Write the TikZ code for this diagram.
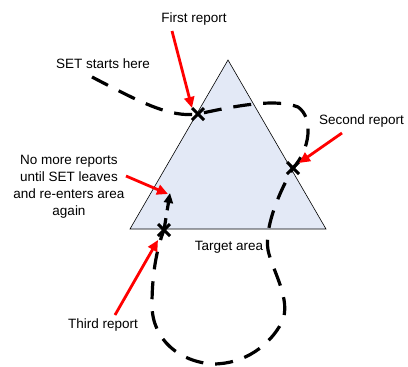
\documentclass[tikz,border=0pt]{standalone}
\usepackage{fontspec}
\setmainfont{Liberation Sans}
\usetikzlibrary{arrows.meta}
\definecolor{areafill}{RGB}{227,233,246}
\begin{document}
\begin{tikzpicture}[x=1pt,y=-1pt,
  lbl/.style={font=\fontsize{13.5}{17}\selectfont, inner sep=0pt, align=center},
  redarrow/.style={draw=red, line width=2.8pt, -{Triangle[length=11pt,width=10pt]}},
  path/.style={draw=black, line width=3.2pt, dash pattern=on 18pt off 12pt},
  xmark/.style={draw=black, line width=3pt}]
\useasboundingbox (0,0) rectangle (408,367);
% triangle
\coordinate (apex) at (228,60);
\coordinate (bl) at (130,229);
\coordinate (br) at (326,229);
\filldraw[fill=areafill, draw=black, line width=0.6pt] (apex) -- (br) -- (bl) -- cycle;
% crossing points
\coordinate (x1) at (198,114);
\coordinate (x2) at (293,168);
\coordinate (x3) at (164,230);
\coordinate (start) at (92,77);
\coordinate (tip) at (170,193);
% dashed trajectory
\draw[path] (start) .. controls (140,102) and (170,118) .. (x1)
  .. controls (235,106) and (275,98) .. (298,107)
  .. controls (314,118) and (310,150) .. (x2)
  .. controls (275,200) and (265,230) .. (268,250)
  .. controls (272,270) and (292,300) .. (282,322)
  .. controls (270,345) and (245,364) .. (213,364)
  .. controls (180,362) and (152,340) .. (152,305)
  .. controls (152,270) and (158,245) .. (x3);
\draw[path, dash pattern=on 12pt off 8pt, -{Triangle[length=10pt,width=9pt]}] (x3) -- (tip);
% X marks
\foreach \p in {x1,x2,x3}{
  \draw[xmark] ([shift={(-6,-6)}]\p) -- ([shift={(6,6)}]\p);
  \draw[xmark] ([shift={(-6,6)}]\p) -- ([shift={(6,-6)}]\p);
}
% labels
\node[lbl] (first) at (194,19) {First report};
\node[lbl] (setstart) at (103,64) {SET starts here};
\node[lbl, anchor=west] (second) at (319,121) {Second report};
\node[lbl] (nomore) at (69,187) {No more reports\\until SET leaves\\and re-enters area\\again};
\node[lbl] (target) at (229,247) {Target area};
\node[lbl] (third) at (103,325) {Third report};
% red arrows
\coordinate (a1) at (172,31);
\coordinate (a2) at (342,133);
\coordinate (a3) at (126,176);
\coordinate (a4) at (115,315);
\draw[redarrow] (a1) -- (192,108);
\draw[redarrow] (a2) -- (299,163);
\draw[redarrow] (a3) -- (168,194);
\draw[redarrow] (a4) -- (158,240);
\end{tikzpicture}
\end{document}
